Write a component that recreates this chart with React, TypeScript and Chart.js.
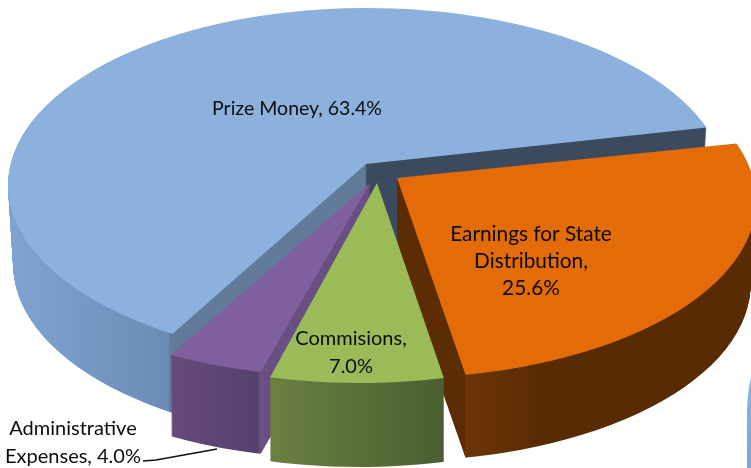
import React, { useEffect, useRef } from "react";
import { Chart, registerables } from "chart.js";

Chart.register(...registerables);

const categories = ["Prize Money", "Earnings for State Distribution", "Commisions", "Administrative Expenses"];
const shares = [63.4, 25.6, 7.0, 4.0];
const sliceColors = ["#8cb1dd", "#e36c09", "#9bbb59", "#7f5f9e"];

const FIRST_SLICE_ROTATION = -153.2;
const RX = 359;
const RY = 177;
const TAPER = 0.00018; // per layer pixel, perspective narrowing of the wall

// view of each slice: exploded ellipse centre, perspective apex, wall depth, small perspective angle fix (deg)
const views = [
  { cx: 367, cy: 185, ax: 366, ay: 164, depth: 80, fixStart: 6, fixEnd: -4 },
  { cx: 397, cy: 201, ax: 397, ay: 178, depth: 83, fixStart: -4, fixEnd: 1.8 },
  { cx: 360, cy: 206, ax: 377, ay: 183, depth: 84, fixStart: -0.7, fixEnd: 2.1 },
  { cx: 345, cy: 200, ax: 370, ay: 183, depth: 82, fixStart: 1.2, fixEnd: 2.2 },
];

// side wall shading, [screen x, colour]
const walls: [number, string][][] = [
  [[8, "#7fa4d0"], [168, "#6a8db6"], [170, "#627b9b"], [365, "#627b9b"], [367, "#3b4a5e"], [751, "#3b4a5e"]],
  [[397, "#5c2c04"], [464, "#5c2c04"], [466, "#6c3507"], [540, "#592b03"], [751, "#592b03"]],
  [[270, "#6b8040"], [444, "#4a5f31"], [751, "#4a5f31"]],
  [[172, "#664a7c"], [258, "#54426b"], [260, "#6a4f85"], [400, "#6a4f85"]],
];

const drawOrder = [0, 1, 3, 2];

const labelLines: { lines: string[]; x: number; y: number; dy: number; size: number }[] = [
  { lines: ["Prize Money, 63.4%"], x: 297, y: 109, dy: 0, size: 19.5 },
  { lines: ["Earnings for State", "Distribution,", "25.6%"], x: 531, y: 234, dy: 27, size: 20.8 },
  { lines: ["Commisions,", "7.0%"], x: 351, y: 339, dy: 28, size: 20 },
  { lines: ["Administrative", "Expenses, 4.0%"], x: 73, y: 429, dy: 28, size: 20 },
];

const DEG = Math.PI / 180;

const pie3d = {
  id: "pie3d",
  beforeDatasetsDraw(chart: any) {
    const ctx: CanvasRenderingContext2D = chart.ctx;
    const arcs = chart.getDatasetMeta(0).data;

    const paintSlice = (i: number) => {
      const el = arcs[i];
      const v = views[i];
      const start = el.startAngle + v.fixStart * DEG;
      const end = el.endAngle + v.fixEnd * DEG;
      const sx = RX / el.outerRadius;
      const sy = RY / el.outerRadius;
      const saved = {
        options: el.options,
        startAngle: el.startAngle,
        endAngle: el.endAngle,
        circumference: el.circumference,
      };
      el.endAngle = el.startAngle + Math.PI * 2;
      el.circumference = Math.PI * 2;

      const layer = (dy: number, fill: any, taper: number) => {
        ctx.save();
        ctx.translate(0, dy);
        ctx.beginPath();
        ctx.moveTo(v.ax, v.ay);
        ctx.lineTo(v.cx + RX * Math.cos(start), v.cy + RY * Math.sin(start));
        const steps = 48;
        for (let k = 0; k <= steps; k++) {
          const a = start + ((end - start) * k) / steps;
          ctx.lineTo(v.cx + 1.4 * RX * Math.cos(a), v.cy + 1.4 * RY * Math.sin(a));
        }
        ctx.lineTo(v.cx + RX * Math.cos(end), v.cy + RY * Math.sin(end));
        ctx.closePath();
        ctx.clip();
        ctx.translate(v.cx, v.cy);
        ctx.scale(sx * taper, sy);
        ctx.translate(-el.x, -el.y);
        let style = fill;
        if (Array.isArray(fill)) {
          const toUser = (X: number) => el.x + (X - v.cx) / (sx * taper);
          const g = ctx.createLinearGradient(toUser(0), 0, toUser(751), 0);
          g.addColorStop(0, fill[0][1]);
          for (const [X, c] of fill) g.addColorStop(X / 751, c);
          style = g;
        }
        el.options = { ...saved.options, backgroundColor: style, borderWidth: 0 };
        el.draw(ctx);
        ctx.restore();
      };

      for (let dy = v.depth; dy >= 1; dy--) {
        layer(dy, walls[i], 1 - TAPER * dy);
      }
      layer(0, sliceColors[i], 1);

      el.options = saved.options;
      el.startAngle = saved.startAngle;
      el.endAngle = saved.endAngle;
      el.circumference = saved.circumference;
    };

    drawOrder.forEach(paintSlice);
    return false;
  },
  afterDraw(chart: any) {
    const ctx: CanvasRenderingContext2D = chart.ctx;
    ctx.save();
    // leader line of the small slice
    ctx.strokeStyle = "#111111";
    ctx.lineWidth = 1.3;
    ctx.beginPath();
    ctx.moveTo(143, 461);
    ctx.lineTo(156, 460);
    ctx.lineTo(217, 449);
    ctx.stroke();

    // edge of a neighbouring shape cropped by the frame
    const g = ctx.createLinearGradient(0, 378, 0, 468);
    g.addColorStop(0, "#8cb1dd");
    g.addColorStop(1, "#7fa4cf");
    ctx.fillStyle = g;
    ctx.beginPath();
    ctx.moveTo(751, 378);
    ctx.quadraticCurveTo(747, 392, 747, 420);
    ctx.lineTo(747, 468);
    ctx.lineTo(751, 468);
    ctx.closePath();
    ctx.fill();

    ctx.fillStyle = "#0c0c0c";
    ctx.textAlign = "center";
    ctx.textBaseline = "middle";
    for (const l of labelLines) {
      ctx.font = `${l.size}px Lato`;
      l.lines.forEach((t, k) => ctx.fillText(t, l.x, l.y + k * l.dy));
    }
    ctx.restore();
  },
};

export default function App() {
  const ref = useRef<HTMLCanvasElement>(null);
  useEffect(() => {
    document.body.style.margin = "0";
    const chart = new Chart(ref.current as HTMLCanvasElement, {
      type: "pie",
      data: {
        labels: categories,
        datasets: [{ data: shares, backgroundColor: sliceColors, borderWidth: 0 }],
      },
      options: {
        responsive: false,
        animation: false,
        rotation: FIRST_SLICE_ROTATION,
        layout: { padding: 0 },
        plugins: { legend: { display: false }, tooltip: { enabled: false } },
      },
      plugins: [pie3d as any],
    });
    return () => chart.destroy();
  }, []);
  return (
    <canvas
      ref={ref}
      width={751}
      height={468}
      style={{ display: "block", width: 751, height: 468 }}
    />
  );
}
